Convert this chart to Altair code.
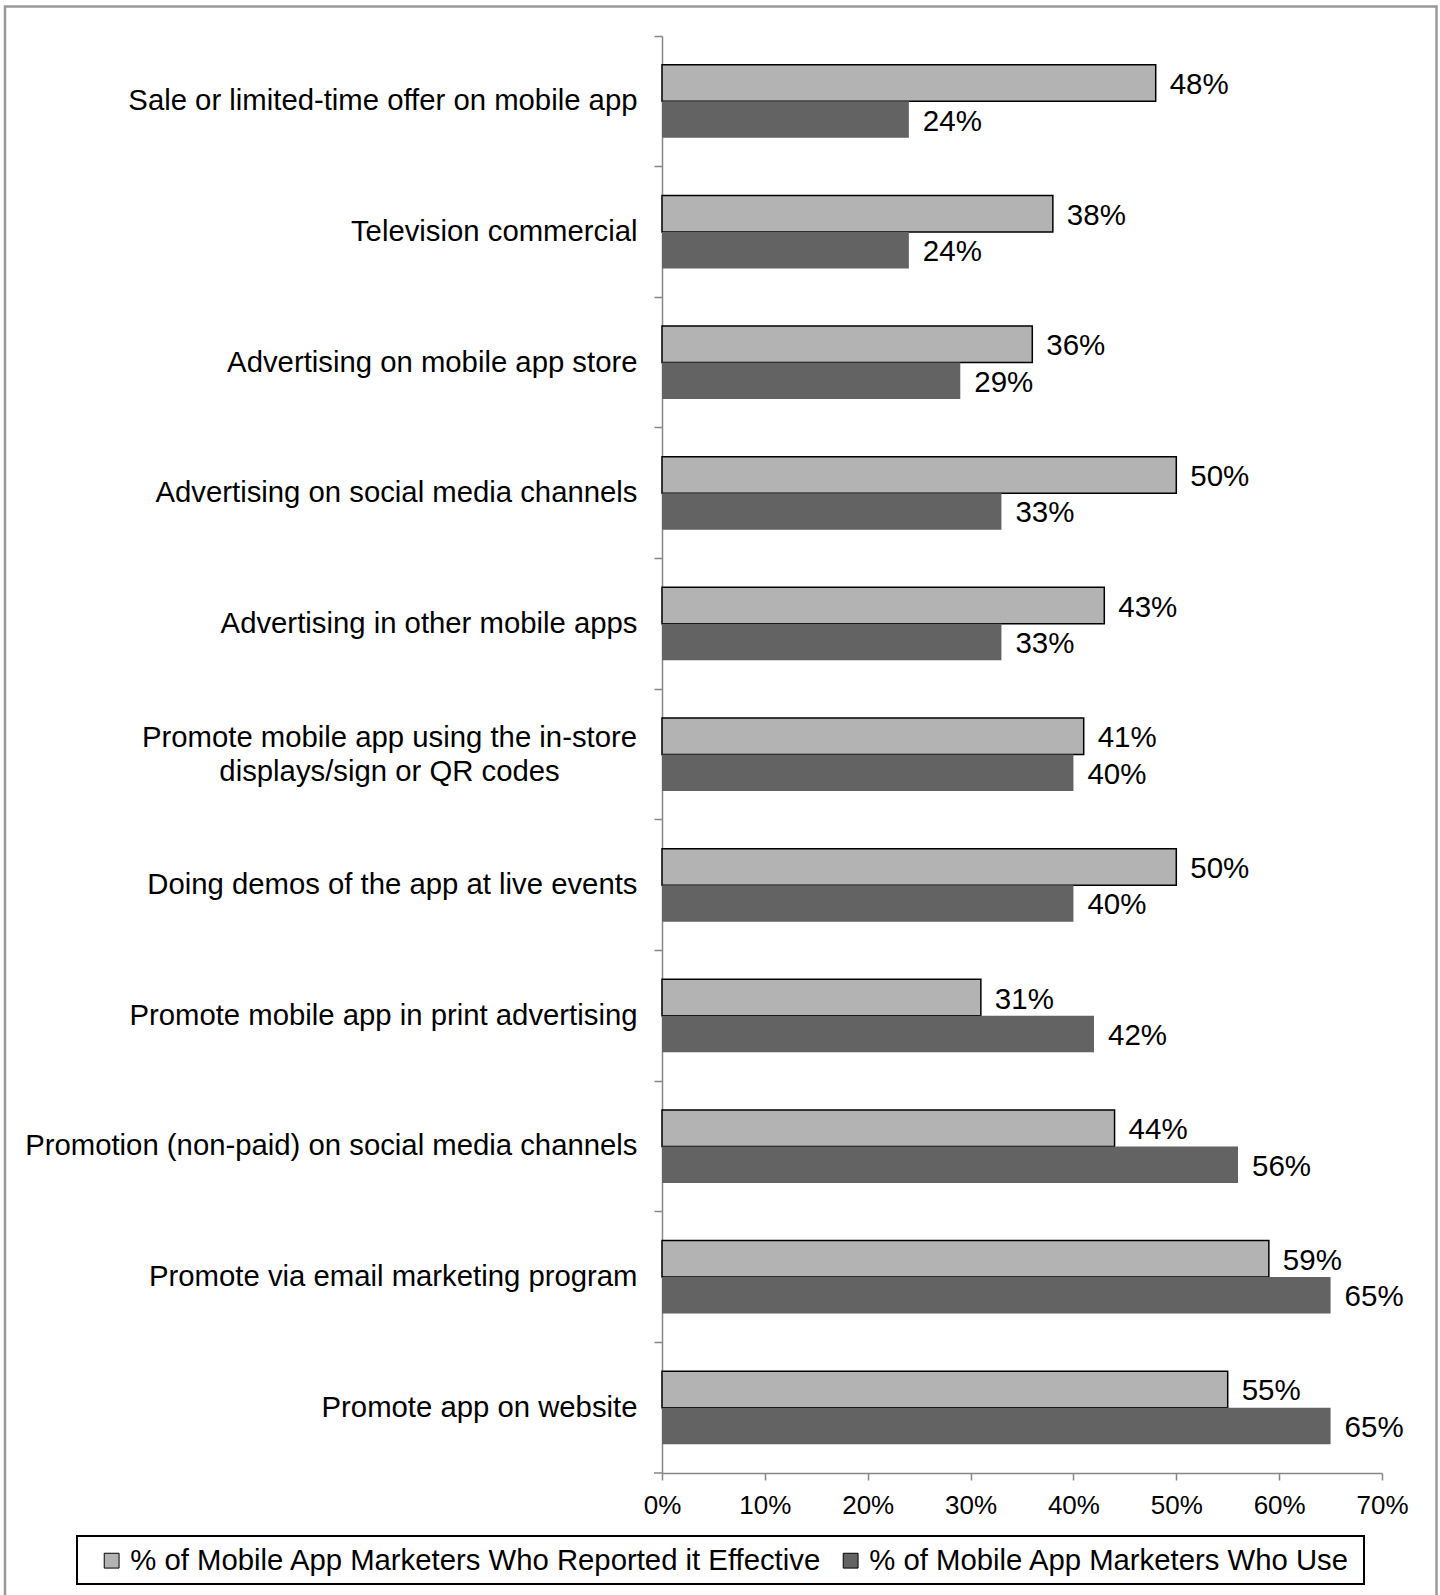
import altair as alt
import pandas as pd

categories = [
    "Sale or limited-time offer on mobile app",
    "Television commercial",
    "Advertising on mobile app store",
    "Advertising on social media channels",
    "Advertising in other mobile apps",
    "Promote mobile app using the in-store displays/sign or QR codes",
    "Doing demos of the app at live events",
    "Promote mobile app in print advertising",
    "Promotion (non-paid) on social media channels",
    "Promote via email marketing program",
    "Promote app on website",
]
effective = [48, 38, 36, 50, 43, 41, 50, 31, 44, 59, 55]
use = [24, 24, 29, 33, 33, 40, 40, 42, 56, 65, 65]
series_names = [
    "% of Mobile App Marketers Who Reported it Effective",
    "% of Mobile App Marketers Who Use",
]
x_ticks = [0, 10, 20, 30, 40, 50, 60, 70]
colors = ["#b3b3b3", "#636363"]

rows = []
for c, e, u in zip(categories, effective, use):
    rows.append({"category": c, "series": series_names[0], "value": e})
    rows.append({"category": c, "series": series_names[1], "value": u})
df = pd.DataFrame(rows)

FONT = "Liberation Sans"
AXIS_GRAY = "#878787"
two_line = categories[5]
is_two = f"datum.value == '{two_line}'"

y_enc = alt.Y(
    "category:N",
    sort=categories,
    scale=alt.Scale(paddingInner=0, paddingOuter=0),
    axis=alt.Axis(
        title=None,
        bandPosition=0,
        domainColor=AXIS_GRAY,
        domainWidth=1.5,
        tickColor=AXIS_GRAY,
        tickWidth=1.5,
        tickSize=8,
        labelFont=FONT,
        labelFontSize=29.3,
        labelColor="black",
        labelLimit=700,
        labelPadding={"condition": {"test": is_two, "value": 265}, "value": 17},
        labelAlign={"condition": {"test": is_two, "value": "center"}, "value": "right"},
        labelOffset={"condition": {"test": is_two, "value": -17}, "value": 0},
        labelExpr=f"{is_two} ? ['Promote mobile app using the in-store', 'displays/sign or QR codes'] : datum.label",
        labelLineHeight=34.5,
        labelBaseline="middle",
    ),
)
x_enc = alt.X(
    "value:Q",
    scale=alt.Scale(domain=[0, 70], nice=False),
    axis=alt.Axis(
        title=None,
        values=x_ticks,
        labelExpr="datum.value + '%'",
        grid=False,
        domainColor=AXIS_GRAY,
        domainWidth=1.5,
        tickColor=AXIS_GRAY,
        tickWidth=1.5,
        tickSize=7,
        labelFont=FONT,
        labelFontSize=26,
        labelColor="black",
        labelPadding=12,
        labelFlush=False,
        labelOverlap=False,
    ),
)
yoff_enc = alt.YOffset(
    "series:N", sort=series_names, scale=alt.Scale(paddingInner=0, paddingOuter=0.79)
)

bars = alt.Chart(df).mark_bar(strokeWidth=1.5).encode(
    x=x_enc,
    y=y_enc,
    yOffset=yoff_enc,
    fill=alt.Fill(
        "series:N",
        scale=alt.Scale(domain=series_names, range=colors),
        legend=alt.Legend(
            title=None,
            orient="none",
            legendX=-565,
            legendY=1510,
            direction="horizontal",
            symbolType="square",
            symbolSize=220,
            symbolStrokeColor="black",
            symbolStrokeWidth=1,
            labelFont=FONT,
            labelFontSize=29.3,
            labelColor="black",
            labelLimit=1000,
            labelOffset=4,
            columnPadding=14,
            padding=0,
        ),
    ),
    stroke=alt.when(alt.datum.series == series_names[0])
    .then(alt.value("black"))
    .otherwise(alt.value("transparent")),
)

labels = (
    alt.Chart(df)
    .transform_calculate(label="datum.value + '%'")
    .mark_text(align="left", baseline="middle", dx=14, dy=2, font=FONT, fontSize=29.5, color="black")
    .encode(x=x_enc, y=y_enc, yOffset=yoff_enc, text="label:N")
)

deco = alt.Data(values=[{}])
frame = alt.Chart(deco).mark_rect(fillOpacity=0, stroke="#999999", strokeWidth=2.5).encode(
    x=alt.value(-657), x2=alt.value(774.5), y=alt.value(-29.5), y2=alt.value(1600)
)
legend_box = alt.Chart(deco).mark_rect(fillOpacity=0, stroke="black", strokeWidth=2).encode(
    x=alt.value(-585), x2=alt.value(702), y=alt.value(1500), y2=alt.value(1548)
)
axis_stub = alt.Chart(deco).mark_rule(color=AXIS_GRAY, strokeWidth=1.5).encode(
    x=alt.value(-8), x2=alt.value(0), y=alt.value(1437)
)

chart = (
    alt.layer(frame, legend_box, axis_stub, bars, labels)
    .properties(
        width=720,
        height=1437,
        autosize=alt.AutoSizeParams(type="none"),
        padding={"left": 662, "top": 36, "right": 58, "bottom": 122},
        background="white",
    )
    .configure_view(stroke=None)
)

chart.save("out.html", embed_options={"renderer": "svg", "actions": False})
